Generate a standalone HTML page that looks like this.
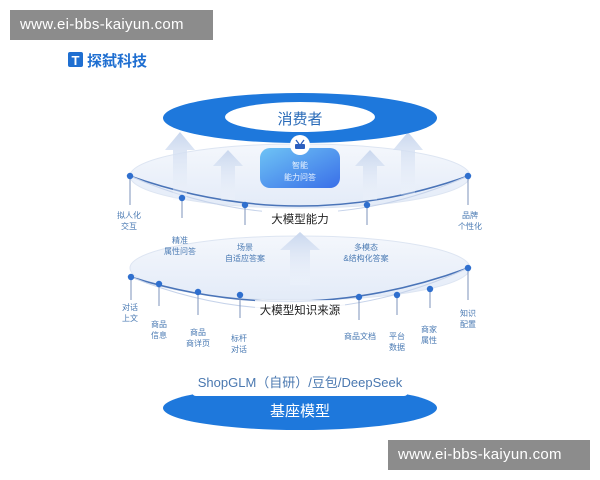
<!DOCTYPE html>
<html><head><meta charset="utf-8"><style>
body{margin:0;width:600px;height:480px;background:#fff;overflow:hidden;font-family:"Liberation Sans","Noto Sans CJK SC",sans-serif}
svg{position:absolute;left:0;top:0}
.wm{position:absolute;background:#8c8c8c;color:#fff;font-size:15px;line-height:30px;padding:0 10px;letter-spacing:0.3px}
</style></head><body>
<svg width="600" height="480" viewBox="0 0 600 480">
<defs>
<linearGradient id="arr" x1="0" y1="0" x2="0" y2="1"><stop offset="0" stop-color="#c9d7ee"/><stop offset="1" stop-color="#eef3fb" stop-opacity="0.3"/></linearGradient>
<linearGradient id="disc" x1="0" y1="0" x2="0" y2="1"><stop offset="0" stop-color="#f4f7fc"/><stop offset="1" stop-color="#e3ebf8"/></linearGradient>
<linearGradient id="box" x1="0" y1="0" x2="1" y2="1"><stop offset="0" stop-color="#6ec3f5"/><stop offset="1" stop-color="#3a6fe8"/></linearGradient>
</defs>
<!-- logo -->
<rect x="68" y="52" width="15" height="15" rx="2" fill="#1f6fd1"/>
<text x="75.5" y="65" font-size="13" fill="#fff" text-anchor="middle" font-weight="bold">T</text>
<text x="87" y="66" font-size="15" font-weight="bold" fill="#1f6fd1" font-family="Liberation Sans,Noto Sans CJK SC,sans-serif">探弑科技</text>

<!-- lower disc -->
<ellipse cx="300" cy="268" rx="170" ry="32" fill="url(#disc)" stroke="#dde5f2"/>
<path d="M131 277 Q300 330 468 268" fill="none" stroke="#4a74b8" stroke-width="1.5"/>
<path d="M131 277 Q300 345 468 268" fill="none" stroke="#c6d3ea" stroke-width="1"/>
<!-- middle disc -->
<ellipse cx="300" cy="176" rx="170" ry="32" fill="url(#disc)" stroke="#dde5f2"/>
<path d="M130 176 Q300 236 468 176" fill="none" stroke="#4a74b8" stroke-width="1.5"/>
<path d="M130 176 Q300 250 468 176" fill="none" stroke="#c6d3ea" stroke-width="1"/>

<!-- arrows -->
<g fill="url(#arr)">
<polygon points="180,132 165,150 173,150 173,200 187,200 187,150 195,150"/>
<polygon points="228,150 213,166 221,166 221,200 235,200 235,166 243,166"/>
<polygon points="370,150 355,166 363,166 363,200 377,200 377,166 385,166"/>
<polygon points="408,132 393,150 401,150 401,195 415,195 415,150 423,150"/>
<polygon points="300,232 280,250 290,250 290,285 310,285 310,250 320,250"/>
</g>

<!-- top ellipse -->
<ellipse cx="300" cy="118" rx="137" ry="25" fill="#1e78dc"/>
<ellipse cx="300" cy="117" rx="75" ry="15" fill="#fff"/>
<text x="300" y="124" font-size="15" fill="#2a6bb8" text-anchor="middle">消费者</text>

<!-- smart box -->
<rect x="260" y="148" width="80" height="40" rx="10" fill="url(#box)"/>
<circle cx="300" cy="145" r="10" fill="#fff"/>
<rect x="295" y="144" width="10" height="5" rx="1" fill="#2c5fbf"/>
<path d="M296 140 L299 144 M304 140 L301 144" stroke="#2c5fbf" stroke-width="1.3"/>
<text x="300" y="168" font-size="8" fill="#e9f3ff" text-anchor="middle">智能</text>
<text x="300" y="180" font-size="8" fill="#e9f3ff" text-anchor="middle">能力问答</text>

<!-- middle pins -->
<g stroke="#7d93bb" stroke-width="1">
<line x1="130" y1="176" x2="130" y2="205"/><line x1="182" y1="198" x2="182" y2="218"/><line x1="245" y1="205" x2="245" y2="225"/><line x1="367" y1="205" x2="367" y2="225"/><line x1="468" y1="176" x2="468" y2="205"/>
</g>
<g fill="#2f6fce">
<circle cx="130" cy="176" r="3.2"/><circle cx="182" cy="198" r="3.2"/><circle cx="245" cy="205" r="3.2"/><circle cx="367" cy="205" r="3.2"/><circle cx="468" cy="176" r="3.2"/>
</g>
<rect x="262" y="209" width="76" height="18" fill="#fff"/>
<text x="300" y="223" font-size="11.5" fill="#222" text-anchor="middle">大模型能力</text>

<!-- lower pins -->
<g stroke="#7d93bb" stroke-width="1">
<line x1="131" y1="277" x2="131" y2="300"/><line x1="159" y1="284" x2="159" y2="306"/><line x1="198" y1="292" x2="198" y2="315"/><line x1="240" y1="295" x2="240" y2="318"/><line x1="359" y1="297" x2="359" y2="320"/><line x1="397" y1="295" x2="397" y2="315"/><line x1="430" y1="289" x2="430" y2="308"/><line x1="468" y1="268" x2="468" y2="300"/>
</g>
<g fill="#2f6fce">
<circle cx="131" cy="277" r="3.2"/><circle cx="159" cy="284" r="3.2"/><circle cx="198" cy="292" r="3.2"/><circle cx="240" cy="295" r="3.2"/><circle cx="359" cy="297" r="3.2"/><circle cx="397" cy="295" r="3.2"/><circle cx="430" cy="289" r="3.2"/><circle cx="468" cy="268" r="3.2"/>
</g>
<rect x="255" y="300" width="90" height="18" fill="#fff" opacity="0.8"/>
<text x="300" y="314" font-size="11.5" fill="#222" text-anchor="middle">大模型知识来源</text>

<!-- labels -->
<g font-size="8" fill="#4a7ab3" text-anchor="middle">
<text x="129" y="218">拟人化</text><text x="129" y="229">交互</text>
<text x="180" y="243">精准</text><text x="180" y="254">属性问答</text>
<text x="245" y="250">场景</text><text x="245" y="261">自适应答案</text>
<text x="366" y="250">多模态</text><text x="366" y="261">&amp;结构化答案</text>
<text x="470" y="218">品牌</text><text x="470" y="229">个性化</text>
<text x="130" y="310">对话</text><text x="130" y="321">上文</text>
<text x="159" y="327">商品</text><text x="159" y="338">信息</text>
<text x="198" y="335">商品</text><text x="198" y="346">商详页</text>
<text x="239" y="341">标杆</text><text x="239" y="352">对话</text>
<text x="360" y="339">商品文档</text>
<text x="397" y="339">平台</text><text x="397" y="350">数据</text>
<text x="429" y="332">商家</text><text x="429" y="343">属性</text>
<text x="468" y="316">知识</text><text x="468" y="327">配置</text>
</g>

<!-- base -->
<ellipse cx="300" cy="408" rx="137" ry="22" fill="#1e78dc"/>
<rect x="192" y="367" width="216" height="29" rx="4" fill="#fff"/>
<text x="300" y="387" font-size="13" fill="#4a78b0" text-anchor="middle">ShopGLM（自研）/豆包/DeepSeek</text>
<text x="300" y="416" font-size="15" fill="#fff" text-anchor="middle">基座模型</text>
</svg>
<div class="wm" style="left:10px;top:10px;width:183px">www.ei-bbs-kaiyun.com</div>
<div class="wm" style="left:388px;top:440px;width:182px">www.ei-bbs-kaiyun.com</div>
</body></html>
